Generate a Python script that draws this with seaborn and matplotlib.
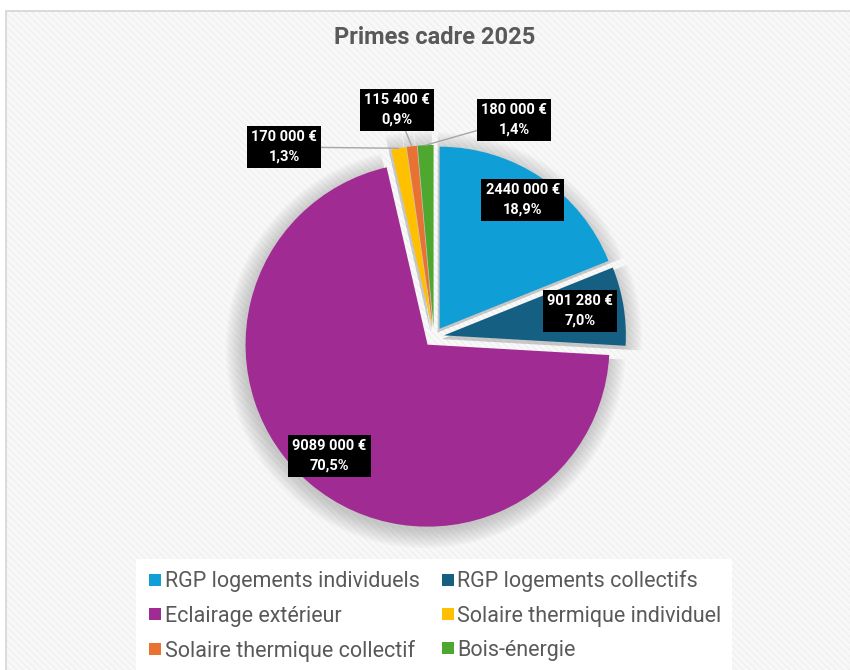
import matplotlib
matplotlib.use("Agg")
import matplotlib.pyplot as plt
from matplotlib.patches import Rectangle
from matplotlib.lines import Line2D
import seaborn as sns
import numpy as np

# ---- data ----
categories = ["RGP logements individuels", "RGP logements collectifs", "Eclairage extérieur",
              "Solaire thermique individuel", "Solaire thermique collectif", "Bois-énergie"]
values = [2440000, 901280, 9089000, 170000, 115400, 180000]
value_labels = ["2440 000 €", "901 280 €", "9089 000 €", "170 000 €", "115 400 €", "180 000 €"]
title = "Primes cadre 2025"
colors = ["#0F9ED5", "#156082", "#A02B93", "#FFC000", "#E97132", "#4EA72E"]

# ---- layout ----
W, H, DPI = 850, 670, 100
cx, cy, R = 434, 337, 182          # pie centre (px from top-left) and radius in px
expl = 0.055
label_px = [(523, 200), (580, 311), (329, 456), (284, 147), (397, 110), (514, 120)]
leader = [False, False, False, True, True, True]

sns.set_theme(style="white")
plt.rcParams["font.family"] = ["Roboto", "DejaVu Sans"]
pal = sns.color_palette(colors)

fig = plt.figure(figsize=(W / DPI, H / DPI), dpi=DPI)
fig.patch.set_facecolor("white")

plt.rcParams["hatch.linewidth"] = 0.6
bg = Rectangle((6 / W, 0), 1 - 6 / W, (H - 11) / H, transform=fig.transFigure,
               facecolor="#f8f8f8", edgecolor="#ececec", hatch="\\\\\\\\\\", lw=0, zorder=-10)
fig.patches.append(bg)
border = Rectangle((6 / W, -0.01), 1 - 6 / W + 0.01, (H - 11) / H + 0.01, transform=fig.transFigure,
                   fill=False, edgecolor="#d4d4d4", lw=1.2, zorder=-9)
fig.patches.append(border)

ax = fig.add_axes([0, 0, 1, 1], zorder=2)
ax.patch.set_alpha(0)

explode = [expl] * len(values)
total = sum(values)

# soft shadow layers
for k in range(12):
    ax.pie(values, explode=explode, startangle=90, counterclock=False,
           radius=1.0 + 0.009 * k, colors=["#7a7a7a"] * len(values),
           center=(-0.01, -0.02), wedgeprops=dict(alpha=0.035, lw=0))

wedges, _ = ax.pie(values, explode=explode, startangle=90, counterclock=False,
                   colors=pal, wedgeprops=dict(lw=0))

ax.set_xlim(-cx / R, (W - cx) / R)
ax.set_ylim(-(H - cy) / R, cy / R)
ax.set_aspect("equal")
ax.axis("off")

for i, w in enumerate(wedges):
    pct = values[i] / total * 100
    txt = f"{value_labels[i]}\n{pct:.1f}%".replace(".", ",")
    lx = (label_px[i][0] - cx) / R
    ly = (cy - label_px[i][1]) / R
    if leader[i]:
        tm = np.deg2rad((w.theta1 + w.theta2) / 2)
        px = w.center[0] + w.r * np.cos(tm)
        py = w.center[1] + w.r * np.sin(tm)
        ax.annotate("", xy=(px, py), xytext=(lx, ly),
                    arrowprops=dict(arrowstyle="-", color="#a6a6a6", lw=1,
                                    shrinkA=0, shrinkB=0), zorder=3)
    ax.text(lx, ly, txt, ha="center", va="center", color="white", fontsize=10.5,
            fontweight="bold", linespacing=1.5, zorder=5,
            bbox=dict(boxstyle="square,pad=0.3", facecolor="black", edgecolor="none"))

fig.text(435 / W, 1 - 37 / H, title, ha="center", va="center", fontsize=17,
         fontweight="bold", color="#595959")

handles = [Line2D([], [], marker="s", linestyle="none", markersize=9,
                  markerfacecolor=pal[i], markeredgewidth=0) for i in range(len(categories))]
order = [0, 2, 4, 1, 3, 5]   # fill rows of two
leg = fig.legend([handles[i] for i in order], [categories[i] for i in order],
                 loc="lower center", bbox_to_anchor=(434 / W, -0.02),
                 ncol=2, frameon=True, fancybox=False, facecolor="white", edgecolor="none",
                 framealpha=1, fontsize=15.5, labelcolor="#595959", handletextpad=0.05,
                 columnspacing=0.9, labelspacing=0.62, borderpad=0.5, handlelength=0.8)
leg.set_zorder(10)

fig.savefig("out.png", dpi=DPI, facecolor="white")
